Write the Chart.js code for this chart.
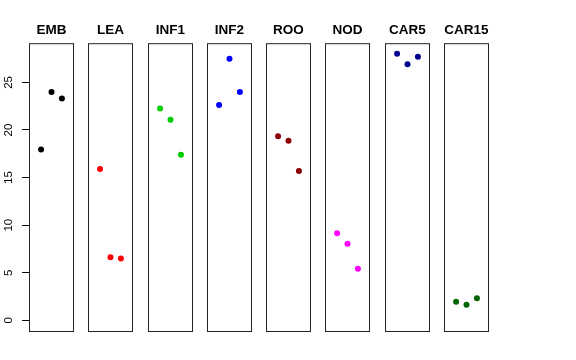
<!DOCTYPE html>
<html>
<head>
<meta charset="utf-8">
<script src="https://cdn.jsdelivr.net/npm/chart.js@4"></script>
<style>
  body { margin: 0; background: #fff; }
  #wrap { position: relative; width: 576px; height: 360px; overflow: hidden; }
  #wrap canvas { position: absolute; top: 0; }
</style>
</head>
<body>
<div id="wrap"></div>
<script>
const panels = ["EMB", "LEA", "INF1", "INF2", "ROO", "NOD", "CAR5", "CAR15"];
const xPositions = [1, 2, 3];
const yTicks = [0, 5, 10, 15, 20, 25];

const embValues = [17.96, 23.98, 23.32];
const leaValues = [15.89, 6.62, 6.51];
const inf1Values = [22.27, 21.07, 17.4];
const inf2Values = [22.62, 27.48, 23.98];
const rooValues = [19.33, 18.87, 15.68];
const nodValues = [9.14, 8.05, 5.42];
const car5Values = [28.0, 26.92, 27.69];
const car15Values = [1.96, 1.64, 2.31];

const panelValues = [embValues, leaValues, inf1Values, inf2Values, rooValues, nodValues, car5Values, car15Values];
const panelColors = ["#000000", "#ff0000", "#00cd00", "#0000ff", "#8b0000", "#ff00ff", "#00008b", "#006400"];

// layout of the strip of panels
const firstLeft = 29;
const step = 59.25;
const panelW = 45;
const side = 29;

const frame = {
  id: "frame",
  afterDatasetsDraw(chart) {
    const a = chart.chartArea;
    const ctx = chart.ctx;
    ctx.save();
    ctx.strokeStyle = "#222";
    ctx.lineWidth = 1;
    ctx.strokeRect(a.left + 0.5, a.top + 0.5, a.right - a.left - 1, a.bottom - a.top);
    ctx.restore();
  },
  afterDraw(chart) {
    const y = chart.scales.y;
    if (!y.options.display) return;
    const ctx = chart.ctx;
    ctx.save();
    ctx.fillStyle = "#000";
    ctx.font = "11.5px 'Liberation Sans', Arial, sans-serif";
    ctx.textAlign = "center";
    ctx.textBaseline = "middle";
    yTicks.forEach(v => {
      ctx.save();
      ctx.translate(9, y.getPixelForValue(v));
      ctx.rotate(-Math.PI / 2);
      ctx.fillText(String(v), 0, 0);
      ctx.restore();
    });
    ctx.restore();
  }
};

function makePanel(i) {
  const wrap = document.getElementById("wrap");
  const canvas = document.createElement("canvas");
  const left = Math.round(firstLeft + i * step) - side;
  canvas.width = panelW + 2 * side;
  canvas.height = 360;
  canvas.style.left = left + "px";
  wrap.appendChild(canvas);

  const first = i === 0;

  new Chart(canvas.getContext("2d"), {
    type: "scatter",
    data: {
      datasets: [{
        data: xPositions.map((x, k) => ({ x: x, y: panelValues[i][k] })),
        backgroundColor: panelColors[i],
        borderColor: panelColors[i],
        pointRadius: 3,
        pointBorderWidth: 0,
        clip: false
      }]
    },
    options: {
      responsive: false,
      animation: false,
      events: [],
      layout: {
        autoPadding: false,
        padding: { left: first ? 0 : side, right: side, top: 0, bottom: 29 }
      },
      plugins: {
        legend: { display: false },
        tooltip: { enabled: false },
        title: {
          display: true,
          fullSize: false,
          text: panels[i],
          color: "#000",
          font: { family: "'Liberation Sans', Arial, sans-serif", size: 13.5, weight: "bold" },
          padding: { top: 22, bottom: 5 }
        }
      },
      scales: {
        x: { type: "linear", display: false, min: -0.16, max: 4.16 },
        y: {
          type: "linear",
          display: first,
          min: -1.12,
          max: 29.12,
          afterBuildTicks: s => { s.ticks = yTicks.map(v => ({ value: v })); },
          afterFit: s => { if (first) s.width = side; },
          ticks: { display: false },
          border: { display: false },
          grid: { display: true, drawOnChartArea: false, drawTicks: true, tickLength: 7, color: "#000" }
        }
      }
    },
    plugins: [frame]
  });
}

panels.forEach((p, i) => makePanel(i));
</script>
</body>
</html>
